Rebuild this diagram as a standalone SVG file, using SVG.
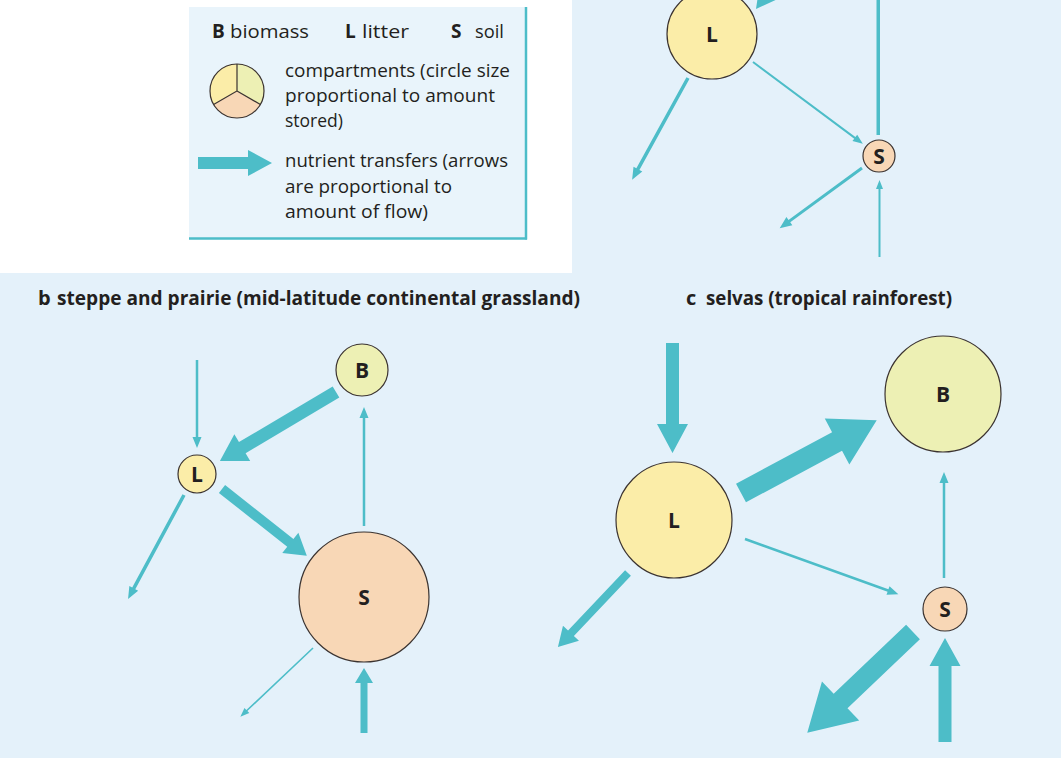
<svg xmlns="http://www.w3.org/2000/svg" width="1061" height="758" viewBox="0 0 1061 758">
<style>
.arr{fill:#4dbdc8}
.node{stroke:#3b3330;stroke-width:1.2}
.cL{fill:#fbeda8}
.cB{fill:#edf0b4}
.cS{fill:#f8d7b6}
.lbl{font-family:"Open Sans","Liberation Sans",sans-serif;font-weight:bold;font-size:21px;fill:#231f20;text-anchor:middle}
.leg{font-family:"Open Sans","Liberation Sans",sans-serif;font-size:19px;fill:#231f20}
.legb{font-family:"Open Sans","Liberation Sans",sans-serif;font-size:19px;font-weight:bold;fill:#231f20}
.ttl{font-family:"Open Sans","Liberation Sans",sans-serif;font-size:20px;font-weight:bold;fill:#231f20}
</style>
<rect x="0" y="0" width="1061" height="758" fill="#e4f1fa"/>
<rect x="0" y="0" width="572" height="273" fill="#ffffff"/>

<g id="legend">
  <rect x="189" y="7" width="337" height="231" fill="#e9f4fb"/>
  <line x1="526" y1="7" x2="526" y2="239.5" stroke="#4dbdc8" stroke-width="2.5"/>
  <line x1="189" y1="238.5" x2="527" y2="238.5" stroke="#4dbdc8" stroke-width="2.5"/>
  <text class="legb" x="212" y="38">B</text>
  <text class="leg" x="230" y="38" textLength="79" lengthAdjust="spacingAndGlyphs">biomass</text>
  <text class="legb" x="345" y="38">L</text>
  <text class="leg" x="362" y="38" textLength="47" lengthAdjust="spacingAndGlyphs">litter</text>
  <text class="legb" x="451" y="38">S</text>
  <text class="leg" x="475" y="38" textLength="29" lengthAdjust="spacingAndGlyphs">soil</text>
  <g id="legend-circle">
    <path class="cL" d="M237,91 L237,64 A27,27 0 0 0 213.6,104.5 Z"/>
    <path class="cB" d="M237,91 L237,64 A27,27 0 0 1 260.4,104.5 Z"/>
    <path class="cS" d="M237,91 L213.6,104.5 A27,27 0 0 0 260.4,104.5 Z"/>
    <circle cx="237" cy="91" r="27" fill="none" class="node"/>
    <path d="M237,64 L237,91 L213.6,104.5 M237,91 L260.4,104.5" fill="none" stroke="#3b3330" stroke-width="1.2"/>
  </g>
  <text class="leg" x="285" y="77" textLength="225" lengthAdjust="spacingAndGlyphs">compartments (circle size</text>
  <text class="leg" x="285" y="102" textLength="210" lengthAdjust="spacingAndGlyphs">proportional to amount</text>
  <text class="leg" x="285" y="127" textLength="58" lengthAdjust="spacingAndGlyphs">stored)</text>
  <polygon class="arr" transform="translate(198,163)" points="0,-6 50,-6 50,-13 74,0 50,13 50,6 0,6"/>
  <text class="leg" x="285" y="167" textLength="223" lengthAdjust="spacingAndGlyphs">nutrient transfers (arrows</text>
  <text class="leg" x="285" y="193" textLength="167" lengthAdjust="spacingAndGlyphs">are proportional to</text>
  <text class="leg" x="285" y="218" textLength="143" lengthAdjust="spacingAndGlyphs">amount of flow)</text>
</g>

<g id="titles">
  <text class="ttl" x="38" y="305">b</text>
  <text class="ttl" x="57" y="305" textLength="523" lengthAdjust="spacingAndGlyphs">steppe and prairie (mid-latitude continental grassland)</text>
  <text class="ttl" x="686" y="305">c</text>
  <text class="ttl" x="706" y="305" textLength="246" lengthAdjust="spacingAndGlyphs">selvas (tropical rainforest)</text>
</g>

<g id="connectors">
  <!-- a -->
  <polygon class="arr" transform="translate(792,-39) rotate(126.87)" points="0,-6 36,-6 36,-13 60,0 36,13 36,6 0,6"/>
  <rect class="arr" x="876.5" y="-5" width="3.5" height="140"/>
  <polygon class="arr" transform="translate(753,62) rotate(36.7)" points="0,-1 127,-1 127,-4 137,0 127,4 127,1 0,1"/>
  <polygon class="arr" transform="translate(688,78) rotate(118.8)" points="0,-1.75 104,-1.75 104,-5 116,0 104,5 104,1.75 0,1.75"/>
  <polygon class="arr" transform="translate(862,168) rotate(143.8)" points="0,-1.5 90,-1.5 90,-5 102,0 90,5 90,1.5 0,1.5"/>
  <polygon class="arr" transform="translate(879.5,257) rotate(-90)" points="0,-1 68,-1 68,-3.5 77,0 68,3.5 68,1 0,1"/>
  <!-- b -->
  <polygon class="arr" transform="translate(197,360) rotate(90)" points="0,-1.25 77,-1.25 77,-4.5 88,0 77,4.5 77,1.25 0,1.25"/>
  <polygon class="arr" transform="translate(336,392) rotate(149.3)" points="0,-6.5 109,-6.5 109,-15.5 135,0 109,15.5 109,6.5 0,6.5"/>
  <polygon class="arr" transform="translate(222,489) rotate(38.25)" points="0,-5 87,-5 87,-13 108,0 87,13 87,5 0,5"/>
  <polygon class="arr" transform="translate(364,526) rotate(-90)" points="0,-1.25 108,-1.25 108,-4.5 119,0 108,4.5 108,1.25 0,1.25"/>
  <polygon class="arr" transform="translate(184,495) rotate(118.3)" points="0,-1.75 106,-1.75 106,-5 118,0 106,5 106,1.75 0,1.75"/>
  <polygon class="arr" transform="translate(313,648) rotate(136.6)" points="0,-0.8 91,-0.8 91,-3.5 100,0 91,3.5 91,0.8 0,0.8"/>
  <polygon class="arr" transform="translate(364,733) rotate(-90)" points="0,-3.5 50,-3.5 50,-9 65,0 50,9 50,3.5 0,3.5"/>
  <!-- c -->
  <polygon class="arr" transform="translate(672.5,343) rotate(90)" points="0,-6.5 81,-6.5 81,-15.5 110,0 81,15.5 81,6.5 0,6.5"/>
  <polygon class="arr" transform="translate(741,493) rotate(-28.2)" points="0,-10.5 109,-10.5 109,-26 154,0 109,26 109,10.5 0,10.5"/>
  <polygon class="arr" transform="translate(745,539) rotate(19.8)" points="0,-1.25 152,-1.25 152,-4.5 163,0 152,4.5 152,1.25 0,1.25"/>
  <polygon class="arr" transform="translate(944,578) rotate(-90)" points="0,-1.25 95,-1.25 95,-4.5 106,0 95,4.5 95,1.25 0,1.25"/>
  <polygon class="arr" transform="translate(628,573) rotate(133.4)" points="0,-4 83,-4 83,-11 102,0 83,11 83,4 0,4"/>
  <polygon class="arr" transform="translate(913,632) rotate(136.4)" points="0,-10 100,-10 100,-27 146,0 100,27 100,10 0,10"/>
  <polygon class="arr" transform="translate(945,742) rotate(-90)" points="0,-6.5 76,-6.5 76,-15.5 104,0 76,15.5 76,6.5 0,6.5"/>
</g>

<g id="a-L"><circle class="node cL" cx="712" cy="34" r="45"/><text class="lbl" x="712" y="41.5">L</text></g>
<g id="a-S"><circle class="node cS" cx="879" cy="156" r="16"/><text class="lbl" x="879" y="163.5">S</text></g>

<g id="b-B"><circle class="node cB" cx="362" cy="370" r="26"/><text class="lbl" x="362" y="377.5">B</text></g>
<g id="b-L"><circle class="node cL" cx="197" cy="474" r="19"/><text class="lbl" x="197" y="481.5">L</text></g>
<g id="b-S"><circle class="node cS" cx="364" cy="597" r="65"/><text class="lbl" x="364" y="604.5">S</text></g>

<g id="c-B"><circle class="node cB" cx="943" cy="394" r="58"/><text class="lbl" x="943" y="401.5">B</text></g>
<g id="c-L"><circle class="node cL" cx="674" cy="520" r="58"/><text class="lbl" x="674" y="527.5">L</text></g>
<g id="c-S"><circle class="node cS" cx="945" cy="609" r="22"/><text class="lbl" x="945" y="616.5">S</text></g>
</svg>
